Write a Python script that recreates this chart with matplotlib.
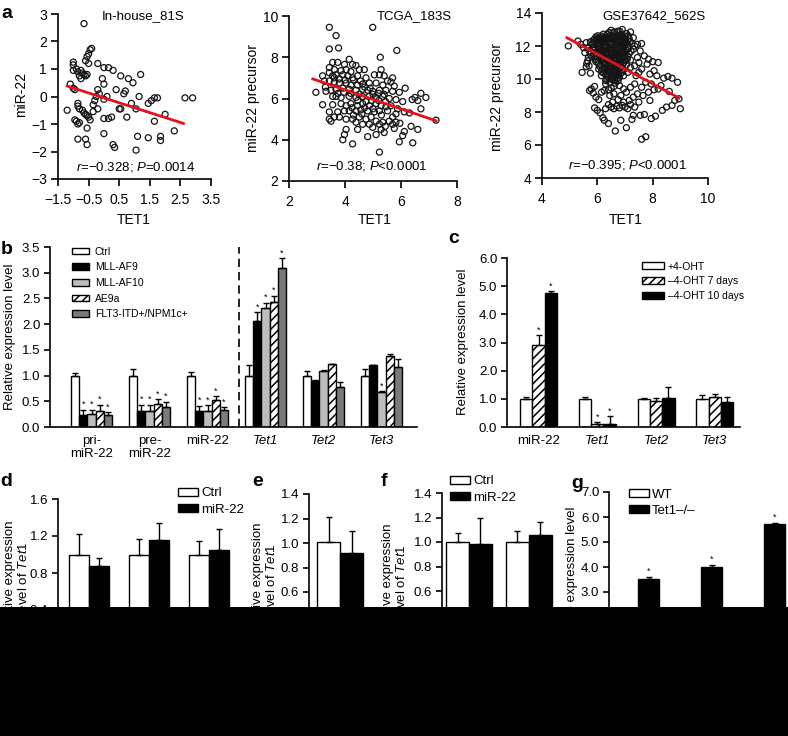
import numpy as np
import matplotlib
matplotlib.use('Agg')
import matplotlib.pyplot as plt
from matplotlib.patches import Rectangle

plt.rcParams['font.family'] = ['Liberation Sans', 'DejaVu Sans']
plt.rcParams['mathtext.fontset'] = 'custom'
plt.rcParams['mathtext.rm'] = 'Liberation Sans'
plt.rcParams['mathtext.it'] = 'Liberation Sans:italic'
plt.rcParams['hatch.linewidth'] = 1.1

# ---- panel a data (TET1, miR-22) ----
inhouse_pts = [
    (-0.65, 2.65), (-0.4, 1.75), (-0.45, 1.7), (-0.5, 1.55), (-0.55, 1.45), (-0.6, 1.3), (-0.5, 1.2),
    (-1.0, 1.25), (-1.0, 1.15), (-1.0, 0.95), (-0.9, 1.0), (-0.85, 0.9), (-0.75, 0.95), (-0.7, 0.85),
    (-0.65, 0.8), (-0.6, 0.75), (-0.75, 0.65), (-0.8, 0.75), (-0.55, 0.8), (-1.1, 0.45), (-1.0, 0.3),
    (-0.95, 0.25), (-1.2, -0.5), (-0.85, -0.25), (-0.85, -0.35), (-0.8, -0.45), (-0.7, -0.5),
    (-0.65, -0.6), (-0.6, -0.65), (-0.55, -0.7), (-0.5, -0.75), (-0.45, -0.85), (-0.35, -0.55),
    (-0.35, -0.3), (-0.3, -0.15), (-0.25, 0.0), (-0.95, -0.85), (-0.9, -0.9), (-0.85, -1.0),
    (-0.8, -0.95), (-0.55, -1.15), (-0.85, -1.55), (-0.6, -1.55), (-0.55, -1.75), (-0.2, 1.2),
    (0.0, 1.05), (0.15, 1.05), (0.3, 0.95), (0.55, 0.75), (0.8, 0.65), (0.95, 0.5), (1.2, 0.8),
    (-0.05, 0.65), (0.0, 0.45), (-0.2, 0.25), (-0.15, 0.1), (0.1, 0.0), (0.0, -0.1), (-0.2, -0.45),
    (0.4, 0.25), (0.7, 0.2), (0.65, 0.1), (0.9, -0.25), (1.05, -0.45), (1.15, 0.0), (0.55, -0.45),
    (0.5, -0.45), (0.75, -0.75), (0.15, -0.8), (0.0, -0.8), (0.25, -0.75), (0.0, -1.35), (0.3, -1.75),
    (0.35, -1.85), (1.05, -1.95), (1.1, -1.45), (1.45, -1.5), (1.45, -0.25), (1.55, -0.15), (1.65, -0.05),
    (1.75, -0.05), (1.65, -0.9), (2.0, -0.65), (1.85, -1.45), (1.85, -1.6), (2.3, -1.25), (2.65, -0.05),
    (2.9, -0.05),
]
inhouse_fit_x = [-1.2, 2.6]
inhouse_fit_y = [0.38, -0.98]

tcga_pts = [
    (3.44, 9.45), (4.99, 9.45), (3.68, 9.05), (3.44, 8.4), (3.77, 8.45), (5.85, 8.33), (4.15, 7.9), (5.26, 8.0),
    (3.56, 7.75), (3.74, 7.75), (3.98, 7.65), (4.27, 7.65), (4.39, 7.6), (4.51, 7.4), (3.44, 7.5), (3.62, 7.4),
    (3.86, 7.35), (4.04, 7.4), (4.21, 7.3), (4.69, 7.4), (5.29, 7.4), (3.44, 7.25), (3.2, 7.1), (3.56, 7.1),
    (3.68, 7.15), (3.92, 7.15), (4.1, 7.1), (4.27, 7.0), (4.45, 7.1), (4.75, 7.0), (5.05, 7.15), (5.23, 7.15),
    (5.4, 7.1), (5.7, 7.0), (5.52, 6.85), (3.26, 6.85), (3.44, 6.85), (3.62, 6.8), (3.8, 6.75), (4.04, 6.75),
    (4.21, 6.65), (4.45, 6.65), (4.63, 6.7), (4.87, 6.75), (5.11, 6.75), (5.35, 6.65), (5.64, 6.8), (5.76, 6.6),
    (6.15, 6.5), (2.96, 6.3), (3.32, 6.35), (3.5, 6.4), (3.68, 6.45), (3.92, 6.5), (4.15, 6.45), (4.39, 6.4),
    (4.63, 6.45), (4.81, 6.4), (4.99, 6.35), (5.23, 6.4), (5.46, 6.4), (5.7, 6.35), (5.94, 6.3), (6.71, 6.25),
    (6.89, 6.05), (3.56, 6.1), (3.68, 6.1), (3.86, 6.05), (4.15, 6.1), (4.39, 6.05), (4.63, 6.1), (4.87, 6.1),
    (5.11, 6.05), (5.35, 6.1), (5.58, 6.0), (5.82, 5.95), (6.06, 5.85), (6.6, 5.9), (6.71, 5.5), (3.2, 5.7),
    (3.56, 5.7), (3.86, 5.75), (4.04, 5.65), (4.21, 5.75), (4.45, 5.65), (4.63, 5.75), (4.87, 5.65), (5.11, 5.75),
    (5.29, 5.65), (5.46, 5.6), (5.64, 5.65), (5.88, 5.5), (6.12, 5.35), (3.44, 5.35), (3.74, 5.35), (3.98, 5.4),
    (4.15, 5.4), (4.39, 5.4), (4.57, 5.45), (4.81, 5.4), (5.05, 5.35), (5.23, 5.4), (5.52, 5.4), (5.82, 5.25),
    (3.44, 5.0), (3.62, 5.1), (3.8, 5.1), (4.04, 5.0), (4.27, 5.0), (4.51, 5.1), (4.75, 5.0), (4.93, 5.1),
    (5.11, 4.9), (5.35, 4.85), (5.58, 4.9), (5.82, 4.85), (5.96, 4.8), (6.36, 4.65), (3.5, 4.9), (4.39, 4.85),
    (4.63, 4.75), (4.87, 4.75), (5.23, 4.75), (5.44, 4.65), (5.7, 4.75), (6.6, 4.5), (4.04, 4.5), (4.45, 4.5),
    (4.99, 4.6), (5.29, 4.5), (5.76, 4.55), (6.12, 4.4), (6.06, 4.2), (3.98, 4.25), (4.81, 4.15), (5.11, 4.25),
    (5.4, 4.35), (5.94, 3.9), (6.42, 3.85), (3.92, 4.0), (4.27, 3.8), (5.23, 3.4), (3.62, 7.0), (3.8, 6.95),
    (4.0, 6.9), (4.3, 6.9), (4.55, 6.85), (4.7, 6.55), (4.9, 6.5), (5.0, 6.2), (5.2, 6.25), (5.4, 6.2),
    (4.5, 6.2), (4.2, 6.25), (3.95, 6.3), (3.75, 6.25), (4.75, 5.85), (4.95, 5.9), (5.2, 5.9), (5.45, 5.85),
    (4.45, 5.9), (4.25, 5.55), (4.7, 5.55), (5.0, 5.5), (5.3, 5.2), (4.6, 5.25), (4.3, 5.2), (5.7, 5.1),
    (6.3, 5.3), (6.4, 5.95), (6.5, 6.05), (3.3, 6.55), (7.25, 4.95),
]
tcga_fit_x = [2.85, 7.25]
tcga_fit_y = [6.95, 4.92]

gse_pts = [
    (4.95, 12.0), (5.3, 12.3), (5.4, 12.1), (5.5, 11.9), (5.55, 11.6), (5.45, 10.4), (5.65, 11.1), (5.7, 10.8),
    (5.75, 10.35), (5.6, 10.75), (5.8, 11.35), (5.72, 9.3), (5.78, 9.4), (5.85, 9.15), (5.9, 9.55), (5.95, 8.9),
    (6.05, 8.75), (5.9, 8.25), (6.0, 8.1), (6.1, 7.95), (6.2, 7.65), (6.25, 7.5), (6.4, 7.3), (6.65, 6.85),
    (6.85, 7.5), (7.05, 7.05), (7.25, 7.55), (7.6, 6.35), (7.75, 6.5),
    (6.3, 8.2), (6.4, 8.45), (6.5, 8.3), (6.6, 8.2), (6.7, 8.35), (6.8, 8.25), (6.9, 8.4), (7.0, 8.3),
    (7.1, 8.2), (7.2, 8.45), (7.35, 8.3), (6.55, 8.6), (6.75, 8.75), (6.95, 8.6), (7.15, 8.7), (7.3, 8.9),
    (7.45, 9.1), (7.5, 8.6), (6.45, 9.0), (6.6, 9.1), (6.85, 9.0), (7.05, 9.2), (6.25, 9.3), (6.4, 9.35),
    (6.95, 9.4), (7.2, 9.5), (7.35, 9.7), (6.3, 9.7), (6.15, 9.2),
    (7.45, 12.1), (7.6, 12.15), (7.55, 11.7), (7.7, 11.4), (7.85, 11.2), (7.5, 11.0), (7.6, 10.6), (7.8, 10.9),
    (8.0, 11.05), (8.2, 11.0), (7.9, 10.3), (8.05, 10.5), (8.15, 10.2), (8.4, 10.05), (8.55, 10.15), (8.7, 10.05),
    (8.9, 9.8), (8.3, 9.6), (7.75, 9.8), (7.95, 9.7), (7.6, 9.5), (7.85, 9.2), (8.05, 9.35), (8.2, 9.4),
    (7.65, 9.0), (7.9, 8.7), (8.6, 9.25), (8.8, 8.7), (8.95, 8.8), (9.0, 8.2), (8.7, 8.4), (8.5, 8.3),
    (8.35, 8.1), (8.1, 7.75), (7.95, 7.6), (7.7, 7.85), (7.55, 7.8), (7.3, 7.8), (7.4, 10.2), (7.5, 10.4),
    (7.35, 10.8), (7.45, 11.3), (7.3, 12.5), (7.2, 12.85),
    (5.6, 12.2), (5.65, 11.9), (5.7, 11.7), (5.75, 11.5), (5.68, 11.3), (5.62, 10.95),
    (5.85, 12.35), (5.95, 12.55), (6.05, 12.4), (6.15, 12.6), (6.25, 12.45), (6.35, 12.7), (6.45, 12.5), (6.55, 12.8),
    (6.65, 12.6), (6.75, 12.9), (6.85, 12.7), (6.95, 12.5), (7.05, 12.75), (7.15, 12.45), (6.5, 12.95), (6.9, 13.0),
    (5.8, 12.1), (5.9, 11.95), (6.0, 12.2), (6.1, 12.05), (6.2, 12.25), (6.3, 12.1), (6.4, 12.3), (6.5, 12.15),
    (6.6, 12.35), (6.7, 12.2), (6.8, 12.4), (6.9, 12.25), (7.0, 12.1), (7.1, 12.3), (7.25, 12.15), (7.35, 12.0),
    (5.85, 11.75), (5.95, 11.6), (6.05, 11.85), (6.15, 11.7), (6.25, 11.9), (6.35, 11.75), (6.45, 11.95), (6.55, 11.8),
    (6.65, 11.6), (6.75, 11.85), (6.85, 11.7), (6.95, 11.9), (7.05, 11.75), (7.15, 11.55), (7.3, 11.8),
    (5.9, 11.4), (6.0, 11.25), (6.1, 11.45), (6.2, 11.3), (6.3, 11.5), (6.4, 11.35), (6.5, 11.55), (6.6, 11.4),
    (6.7, 11.25), (6.8, 11.45), (6.9, 11.3), (7.0, 11.5), (7.1, 11.35), (7.2, 11.15),
    (5.95, 11.05), (6.05, 10.9), (6.15, 11.1), (6.25, 10.95), (6.35, 11.15), (6.45, 11.0), (6.55, 10.85), (6.65, 11.1),
    (6.75, 10.95), (6.85, 11.15), (6.95, 11.0), (7.05, 10.85), (7.2, 10.7),
    (6.05, 10.6), (6.15, 10.45), (6.25, 10.7), (6.35, 10.55), (6.45, 10.75), (6.55, 10.5), (6.65, 10.65), (6.75, 10.45),
    (6.85, 10.7), (6.95, 10.55), (7.1, 10.4), (6.15, 10.2), (6.3, 10.3), (6.4, 10.1), (6.5, 10.3), (6.6, 10.15),
    (6.7, 10.3), (6.8, 10.1), (6.95, 10.2), (6.3, 9.9), (6.45, 9.8), (6.55, 9.95), (6.65, 9.75), (6.75, 9.9),
    (6.6, 9.55), (6.5, 9.45), (6.8, 9.6),
    (6.0, 12.45), (6.2, 12.5), (6.4, 12.6), (6.6, 12.5), (6.8, 12.55), (7.0, 12.6), (6.1, 12.3), (6.3, 12.35),
    (6.5, 12.4), (6.7, 12.45), (6.9, 12.35), (7.05, 12.2), (6.05, 12.05), (6.25, 12.0), (6.45, 12.1), (6.65, 12.05),
    (6.85, 12.0), (6.95, 12.1), (6.1, 11.8), (6.3, 11.85), (6.5, 11.7), (6.7, 11.75), (6.9, 11.6), (6.15, 11.55),
    (6.35, 11.6), (6.55, 11.5), (6.75, 11.55), (6.2, 11.2), (6.4, 11.2), (6.6, 11.25), (6.8, 11.2), (6.3, 10.85),
    (6.5, 10.95), (6.7, 10.8), (6.4, 10.45), (6.6, 10.4), (6.85, 10.35),
    (5.75, 12.25), (5.9, 12.4), (6.02, 12.62), (6.12, 12.48), (6.22, 12.72), (6.32, 12.52), (6.42, 12.82), (6.52, 12.62),
    (6.62, 12.85), (6.72, 12.66), (6.82, 12.88), (6.92, 12.6), (7.02, 12.42), (7.12, 12.62),
    (5.88, 12.18), (5.98, 12.32), (6.08, 12.16), (6.18, 12.38), (6.28, 12.22), (6.38, 12.44), (6.48, 12.26), (6.58, 12.46),
    (6.68, 12.3), (6.78, 12.26), (6.88, 12.46), (6.98, 12.3), (7.08, 12.08), (7.18, 12.28),
    (5.82, 11.88), (5.92, 11.78), (6.02, 11.98), (6.12, 11.9), (6.22, 11.76), (6.32, 11.98), (6.42, 11.82), (6.52, 11.9),
    (6.62, 11.96), (6.72, 11.9), (6.82, 11.82), (6.92, 11.98), (7.02, 11.62), (7.12, 11.84), (7.22, 11.68),
    (5.88, 11.52), (5.98, 11.38), (6.08, 11.62), (6.18, 11.44), (6.28, 11.66), (6.38, 11.48), (6.48, 11.34), (6.58, 11.64),
    (6.68, 11.46), (6.78, 11.34), (6.88, 11.5), (6.98, 11.36), (7.08, 11.2),
    (5.92, 11.18), (6.02, 11.02), (6.12, 11.28), (6.22, 11.06), (6.32, 10.98), (6.42, 11.28), (6.52, 11.1), (6.62, 10.96),
    (6.72, 11.14), (6.82, 11.0), (6.92, 10.86), (7.02, 11.1),
    (6.08, 10.78), (6.18, 10.62), (6.28, 10.84), (6.38, 10.66), (6.48, 10.58), (6.58, 10.78), (6.68, 10.56), (6.78, 10.6),
    (6.9, 10.42), (6.22, 10.36), (6.35, 10.18), (6.45, 10.4), (6.55, 10.22), (6.65, 10.44), (6.75, 10.2), (6.35, 9.95),
    (6.5, 10.05), (6.62, 9.9), (6.72, 10.02),
]
gse_fit_x = [4.9, 8.95]
gse_fit_y = [12.5, 8.85]

# ---- panel b data ----
b_groups = ['pri-\nmiR-22', 'pre-\nmiR-22', 'miR-22', 'Tet1', 'Tet2', 'Tet3']
b_names = ['Ctrl', 'MLL-AF9', 'MLL-AF10', 'AE9a', 'FLT3-ITD+/NPM1c+']
b_ctrl = [1.0, 1.0, 1.0, 1.0, 1.0, 1.0]
b_ctrl_err = [0.05, 0.12, 0.06, 0.21, 0.09, 0.13]
b_af9 = [0.24, 0.32, 0.32, 2.06, 0.89, 1.20]
b_af9_err = [0.10, 0.11, 0.09, 0.17, 0.02, 0.01]
b_af10 = [0.25, 0.31, 0.32, 2.31, 1.08, 0.69]
b_af10_err = [0.09, 0.12, 0.10, 0.11, 0.03, 0.01]
b_ae9a = [0.31, 0.45, 0.52, 2.44, 1.22, 1.38]
b_ae9a_err = [0.12, 0.09, 0.08, 0.11, 0.01, 0.04]
b_flt3 = [0.24, 0.38, 0.34, 3.10, 0.78, 1.17]
b_flt3_err = [0.05, 0.11, 0.04, 0.18, 0.10, 0.15]
b_star = [
    [0, 0, 0, 0, 0, 0],
    [1, 1, 1, 1, 0, 0],
    [1, 1, 1, 1, 0, 1],
    [1, 1, 1, 1, 0, 0],
    [1, 1, 1, 1, 0, 0],
]

# ---- panel c data ----
c_groups = ['miR-22', 'Tet1', 'Tet2', 'Tet3']
c_names = ['+4-OHT', '\u20134-OHT 7 days', '\u20134-OHT 10 days']
c_plus = [1.0, 1.0, 1.0, 1.0]
c_plus_err = [0.05, 0.05, 0.04, 0.15]
c_m7 = [2.9, 0.1, 0.93, 1.07]
c_m7_err = [0.35, 0.08, 0.09, 0.10]
c_m10 = [4.75, 0.1, 1.04, 0.88]
c_m10_err = [0.07, 0.28, 0.39, 0.20]
c_star = [[0, 0, 0, 0], [1, 1, 0, 0], [1, 1, 0, 0]]

# ---- panels d-g data ----
d_ctrl = [1.0, 1.0, 1.0]
d_ctrl_err = [0.22, 0.17, 0.15]
d_mir = [0.88, 1.16, 1.05]
d_mir_err = [0.08, 0.18, 0.23]
e_ctrl = [1.01]
e_ctrl_err = [0.20]
e_mir = [0.92]
e_mir_err = [0.18]
f_ctrl = [1.0, 1.0]
f_ctrl_err = [0.07, 0.09]
f_mir = [0.98, 1.06]
f_mir_err = [0.22, 0.10]
g_wt = [1.0, 1.0, 1.0]
g_wt_err = [0.05, 0.05, 0.05]
g_ko = [3.52, 4.0, 5.72]
g_ko_err = [0.10, 0.10, 0.05]

W, H = 788, 736
fig = plt.figure(figsize=(W / 100, H / 100), dpi=100)


def box(l, t, r, b):
    return [l / W, 1 - b / H, (r - l) / W, (b - t) / H]


def ftext(x, y, s, **kw):
    fig.text(x / W, 1 - y / H, s, **kw)


def style(ax, size=10, xpad=5):
    for s in ('top', 'right'):
        ax.spines[s].set_visible(False)
    for s in ('left', 'bottom'):
        ax.spines[s].set_linewidth(1.2)
    ax.tick_params(direction='out', length=4, width=1.2, labelsize=size)
    ax.tick_params(axis='y', pad=3)
    ax.tick_params(axis='x', pad=xpad)


def bars(ax, x, vals, errs, w, face, hatch=None, label=None):
    h = ax.bar(x, vals, w, color=face, edgecolor='k', linewidth=1, hatch=hatch, zorder=2, label=label)
    ax.errorbar(x, vals, yerr=[np.zeros(len(vals)), errs], fmt='none', ecolor='k',
                elinewidth=1, capsize=2.3, capthick=1, zorder=3)
    return h


def stars(ax, x, vals, errs, flags, size=7):
    for xi, v, e, f in zip(x, vals, errs, flags):
        if f:
            ax.annotate('*', (xi, v + e), xytext=(0, 0.5), textcoords='offset points',
                        ha='center', va='bottom', fontsize=size)


# ---- panel a ----
def scatter_panel(rect, pts, fx, fy, xlim, ylim, xticks, yticks):
    ax = fig.add_axes(rect)
    x, y = np.array(pts).T
    ax.scatter(x, y, s=19, facecolors='none', edgecolors='#141414', linewidths=0.9, zorder=2)
    ax.plot(fx, fy, color='#e3121b', lw=2, zorder=3)
    ax.set_xlim(xlim)
    ax.set_ylim(ylim)
    ax.set_xticks(xticks)
    ax.set_yticks(yticks)
    style(ax)
    ax.tick_params(length=5)
    return ax


scatter_panel(box(58, 14, 211, 179), inhouse_pts, inhouse_fit_x, inhouse_fit_y,
              (-1.5, 3.5), (-3, 3), [-1.5, -0.5, 0.5, 1.5, 2.5, 3.5], range(-3, 4))
scatter_panel(box(289, 16, 457, 181), tcga_pts, tcga_fit_x, tcga_fit_y,
              (2, 8), (2, 10), [2, 4, 6, 8], [2, 4, 6, 8, 10])
scatter_panel(box(542, 13, 708, 178), gse_pts, gse_fit_x, gse_fit_y,
              (4, 10), (4, 14), [4, 6, 8, 10], [4, 6, 8, 10, 12, 14])

ftext(143, 16, 'In-house_81S', ha='center', va='center', fontsize=9.5)
ftext(414, 16, 'TCGA_183S', ha='center', va='center', fontsize=9.5)
ftext(654, 16, 'GSE37642_562S', ha='center', va='center', fontsize=9.5)
ftext(136, 167, '$r$=\u22120.328; $P$=0.0014', ha='center', va='center', fontsize=9.5)
ftext(372, 166, '$r$=\u22120.38; $P$<0.0001', ha='center', va='center', fontsize=9.5)
ftext(627, 165, '$r$=\u22120.395; $P$<0.0001', ha='center', va='center', fontsize=9.5)
for xc in (134, 375, 626):
    ftext(xc, 220, 'TET1', ha='center', va='center', fontsize=10)
ftext(21, 94, 'miR-22', rotation=90, ha='center', va='center', fontsize=10)
ftext(253, 98, 'miR-22 precursor', rotation=90, ha='center', va='center', fontsize=10)
ftext(497, 97, 'miR-22 precursor', rotation=90, ha='center', va='center', fontsize=10)

# ---- panel b ----
axb = fig.add_axes(box(50, 247, 417, 427))
wb = 0.142
xb = np.arange(len(b_groups))
b_vals = [b_ctrl, b_af9, b_af10, b_ae9a, b_flt3]
b_errs = [b_ctrl_err, b_af9_err, b_af10_err, b_ae9a_err, b_flt3_err]
b_faces = ['white', 'black', '#bdbdbd', 'white', '#7a7a7a']
b_hatch = [None, None, None, '////', None]
hb = []
for i in range(5):
    xi = xb + (i - 2) * wb
    hb.append(bars(axb, xi, b_vals[i], b_errs[i], wb, b_faces[i], b_hatch[i], b_names[i]))
    stars(axb, xi, b_vals[i], b_errs[i], b_star[i], size=6.5)
axb.axvline(2.55, color='k', lw=1.2, ls=(0, (5, 3)))
axb.set_xlim(-0.716, 5.61)
axb.set_ylim(0, 3.5)
axb.set_yticks(np.arange(0, 3.51, 0.5))
axb.set_yticklabels(['%.1f' % v for v in np.arange(0, 3.51, 0.5)])
axb.set_xticks(xb)
axb.set_xticklabels(b_groups, linespacing=1.1)
style(axb, size=9.5, xpad=6)
axb.tick_params(axis='x', length=0)
for t in axb.get_xticklabels():
    if t.get_text().startswith('Tet'):
        t.set_fontstyle('italic')
axb.legend(handles=hb, loc='upper left', bbox_to_anchor=(72 / W, 1 - 246.5 / H),
           bbox_transform=fig.transFigure, frameon=False, fontsize=7.5, handlelength=1.6,
           handleheight=0.6, handletextpad=0.6, labelspacing=0.55, borderpad=0, borderaxespad=0)
ftext(10, 337, 'Relative expression level', rotation=90, ha='center', va='center', fontsize=9.5)

# ---- panel c ----
axc = fig.add_axes(box(507, 258, 740, 427))
wc = 0.21
xc = np.arange(len(c_groups))
c_vals = [c_plus, c_m7, c_m10]
c_errs = [c_plus_err, c_m7_err, c_m10_err]
c_faces = ['white', 'white', 'black']
c_hatch = [None, '////', None]
hc = []
for i in range(3):
    xi = xc + (i - 1) * wc
    hc.append(bars(axc, xi, c_vals[i], c_errs[i], wc, c_faces[i], c_hatch[i], c_names[i]))
    stars(axc, xi, c_vals[i], c_errs[i], c_star[i], size=6.5)
axc.set_xlim(-0.537, 3.43)
axc.set_ylim(0, 6)
axc.set_yticks(np.arange(0, 6.1, 1))
axc.set_yticklabels(['%.1f' % v for v in np.arange(0, 6.1, 1)])
axc.set_xticks(xc)
axc.set_xticklabels(c_groups)
style(axc, size=9.5, xpad=6)
axc.tick_params(axis='x', length=0)
for t in axc.get_xticklabels():
    if t.get_text().startswith('Tet'):
        t.set_fontstyle('italic')
axc.legend(handles=hc, loc='upper left', bbox_to_anchor=(642 / W, 1 - 261.5 / H),
           bbox_transform=fig.transFigure, frameon=False, fontsize=7.5, handlelength=2.1,
           handleheight=0.65, handletextpad=0.35, labelspacing=0.45, borderpad=0, borderaxespad=0)
ftext(463, 342, 'Relative expression level', rotation=90, ha='center', va='center', fontsize=9.5)

# ---- panels d-g ----
tet_label = 'Relative expression\nlevel of $\\it{Tet1}$'


def pair_panel(rect, xlim, ylim, yticks, ctrl, ctrl_err, mir, mir_err, w, names, legend_at=None,
               star_flags=None):
    ax = fig.add_axes(rect)
    x = np.arange(len(ctrl))
    h1 = bars(ax, x - w / 2, ctrl, ctrl_err, w, 'white', label=names[0])
    h2 = bars(ax, x + w / 2, mir, mir_err, w, 'black', label=names[1])
    if star_flags is not None:
        stars(ax, x + w / 2, mir, mir_err, star_flags, size=6.5)
    ax.set_xlim(xlim)
    ax.set_ylim(ylim)
    ax.set_yticks(yticks)
    ax.set_yticklabels(['%.1f' % v for v in yticks])
    ax.set_xticks([])
    style(ax, size=9.5)
    if legend_at is not None:
        ax.legend(handles=[h1, h2], loc='upper left', bbox_to_anchor=(legend_at[0] / W, 1 - legend_at[1] / H),
                  bbox_transform=fig.transFigure, frameon=False, fontsize=9.5, handlelength=1.5,
                  handleheight=0.55, handletextpad=0.25, labelspacing=0.33, borderpad=0, borderaxespad=0)
    return ax


pair_panel(box(58, 499, 240, 647), (-0.52, 2.52), (0, 1.6), [0.0, 0.4, 0.8, 1.2, 1.6],
           d_ctrl, d_ctrl_err, d_mir, d_mir_err, 0.333, ['Ctrl', 'miR-22'], legend_at=(178, 487.5))
pair_panel(box(309, 494, 375, 665.5), (-1.35, 1.52), (0, 1.4), [0.6, 0.8, 1.0, 1.2, 1.4],
           e_ctrl, e_ctrl_err, e_mir, e_mir_err, 1.0, ['Ctrl', 'miR-22'])
pair_panel(box(442, 493, 560, 664.5), (-0.45, 1.52), (0, 1.4), [0.6, 0.8, 1.0, 1.2, 1.4],
           f_ctrl, f_ctrl_err, f_mir, f_mir_err, 0.38, ['Ctrl', 'miR-22'], legend_at=(450, 475.5))
pair_panel(box(609, 492, 790, 667), (-0.46, 2.41), (0, 7), [3.0, 4.0, 5.0, 6.0, 7.0],
           g_wt, g_wt_err, g_ko, g_ko_err, 0.333, ['WT', 'Tet1\u2013/\u2013'], legend_at=(629, 488.5),
           star_flags=[1, 1, 1])

ftext(17, 578, tet_label, rotation=90, ha='center', va='center', fontsize=9.5, linespacing=1.05)
ftext(265, 580, tet_label, rotation=90, ha='center', va='center', fontsize=9.5, linespacing=1.05)
ftext(395, 581, tet_label, rotation=90, ha='center', va='center', fontsize=9.5, linespacing=1.05)
ftext(572, 580, 'Relative expression level', rotation=90, ha='center', va='center', fontsize=9.5)

# panel letters
for letter, px, py in [('a', 7, 14), ('b', 7, 249), ('c', 454, 238), ('d', 6, 482),
                       ('e', 258, 482), ('f', 384, 482), ('g', 577, 484)]:
    ftext(px, py, letter, ha='center', va='center', fontsize=14, fontweight='bold')

# black band covering the bottom of the figure
fig.add_artist(Rectangle((0, 0), 1, 1 - 607 / H, transform=fig.transFigure,
                         facecolor='black', edgecolor='none', zorder=50))

fig.savefig('out.png', dpi=100, facecolor='white')
